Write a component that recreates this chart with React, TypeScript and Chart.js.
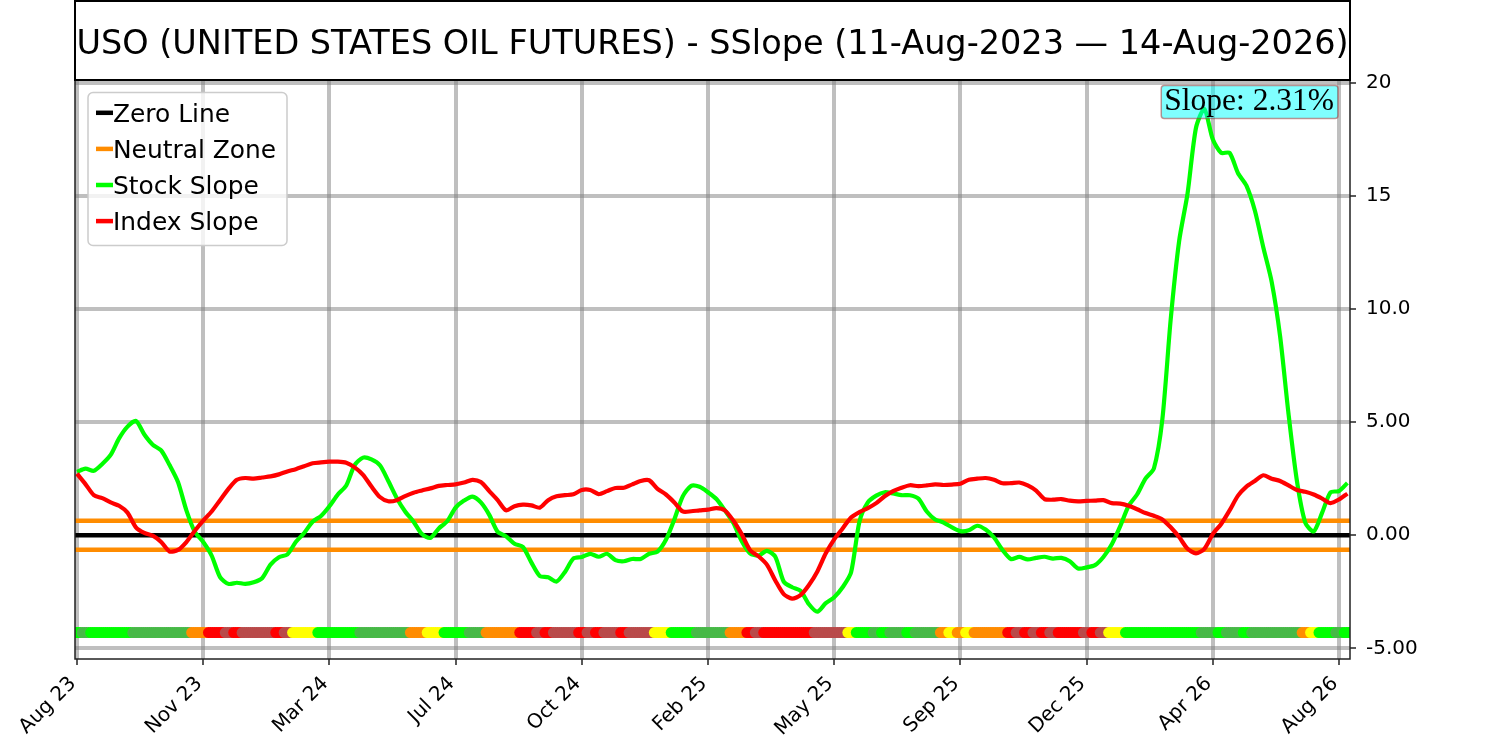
import { useEffect, useRef } from "react";
import Chart from "chart.js/auto";

const TITLE = "USO (UNITED STATES OIL FUTURES) - SSlope (11-Aug-2023 — 14-Aug-2026)";

// x axis is the sample index; month labels sit every 15 samples
const tickIndex = [0, 15, 30, 45, 60, 75, 90, 105, 120, 135, 150];
const tickLabels = ["Aug 23", "Nov 23", "Mar 24", "Jul 24", "Oct 24", "Feb 25", "May 25", "Sep 25", "Dec 25", "Apr 26", "Aug 26"];
const X_MIN = -0.24;
const X_MAX = 151.31;

const yTicks = [20, 15, 10, 5, 0, -5];
const yTickLabels = ["20", "15", "10.0", "5.00", "0.00", "-5.00"];
const Y_MIN = -5.47;
const Y_MAX = 20.12;

const stockSlope = [
  2.8, 2.94, 2.85, 3.15, 3.55, 4.28, 4.8, 5.05, 4.45, 4.0,
  3.75, 3.1, 2.35, 1.1, 0.15, -0.3, -0.9, -1.85, -2.15, -2.1,
  -2.15, -2.08, -1.9, -1.3, -0.97, -0.85, -0.3, 0.1, 0.6, 0.85,
  1.28, 1.8, 2.2, 3.1, 3.43, 3.35, 3.09, 2.4, 1.65, 1.05,
  0.6, 0.05, -0.12, 0.3, 0.62, 1.22, 1.53, 1.71, 1.45, 0.9,
  0.15, -0.05, -0.38, -0.52, -1.2, -1.8, -1.86, -2.05, -1.62, -1.03,
  -0.96, -0.82, -0.95, -0.82, -1.1, -1.15, -1.05, -1.05, -0.82, -0.72,
  -0.2, 0.7, 1.72, 2.18, 2.14, 1.9, 1.6, 1.1, 0.55, -0.25,
  -0.8, -0.9, -0.69, -0.95, -2.05, -2.3, -2.45, -3.05, -3.38, -3.0,
  -2.74, -2.3, -1.65, 0.6, 1.45, 1.75, 1.9, 1.85, 1.77, 1.77,
  1.62, 1.05, 0.7, 0.56, 0.35, 0.18, 0.22, 0.42, 0.25, -0.1,
  -0.65, -1.05, -0.96, -1.07, -1.0, -0.95, -1.03, -1.0, -1.15, -1.47,
  -1.42, -1.32, -0.96, -0.4, 0.4, 1.3, 1.8, 2.5, 2.95, 5.1,
  9.55, 13.0, 15.1, 18.0, 18.84, 17.5, 16.9, 16.9, 16.0, 15.45,
  14.35, 12.73, 11.2, 8.8, 5.37, 2.4, 0.55, 0.17, 1.0, 1.9,
  1.95, 2.31,
];

const indexSlope = [
  2.72, 2.26, 1.77, 1.64, 1.45, 1.3, 1.0, 0.35, 0.1, -0.02,
  -0.3, -0.72, -0.65, -0.3, 0.2, 0.65, 1.05, 1.55, 2.05, 2.45,
  2.53, 2.5, 2.55, 2.6, 2.69, 2.82, 2.92, 3.05, 3.18, 3.22,
  3.25, 3.25, 3.2, 3.0, 2.67, 2.15, 1.69, 1.5, 1.55, 1.73,
  1.88, 1.98, 2.07, 2.18, 2.22, 2.25, 2.33, 2.45, 2.35, 1.95,
  1.55, 1.1, 1.28, 1.35, 1.32, 1.22, 1.55, 1.72, 1.77, 1.81,
  2.0, 2.0, 1.82, 1.95, 2.09, 2.1, 2.25, 2.4, 2.43, 2.05,
  1.8, 1.45, 1.05, 1.06, 1.1, 1.13, 1.2, 1.1, 0.65, 0.05,
  -0.66, -0.93, -1.3, -2.0, -2.6, -2.8, -2.65, -2.2, -1.6, -0.8,
  -0.18, 0.3, 0.78, 1.02, 1.2, 1.42, 1.72, 1.95, 2.1, 2.21,
  2.17, 2.2, 2.25, 2.22, 2.24, 2.28, 2.45, 2.5, 2.53, 2.45,
  2.3, 2.3, 2.33, 2.2, 1.97, 1.6, 1.57, 1.6, 1.53, 1.5,
  1.52, 1.53, 1.55, 1.42, 1.4, 1.3, 1.15, 0.98, 0.86, 0.7,
  0.35, -0.08, -0.6, -0.8, -0.6, 0.05, 0.5, 1.1, 1.75, 2.15,
  2.4, 2.65, 2.5, 2.4, 2.2, 2.0, 1.92, 1.8, 1.62, 1.42,
  1.58, 1.84,
];

const neutralBand = 0.64;
const signalLevel = -4.3;

// signal state per sample, run-length coded: [state, samples]
const signalRuns: [string, number][] = [
  ["G", 1], ["g", 1], ["G", 5], ["g", 7], ["O", 2], ["R", 2], ["B", 1], ["R", 1], ["B", 4], ["R", 1],
  ["B", 1], ["Y", 3], ["G", 5], ["g", 6], ["O", 2], ["Y", 2], ["G", 3], ["g", 2], ["O", 4], ["R", 2],
  ["B", 1], ["R", 1], ["B", 3], ["R", 1], ["B", 1], ["R", 1], ["B", 2], ["R", 1], ["B", 3], ["Y", 2],
  ["G", 3], ["g", 4], ["O", 2], ["R", 1], ["B", 1], ["R", 6], ["B", 4], ["Y", 1], ["G", 2], ["g", 1],
  ["G", 1], ["g", 2], ["G", 1], ["g", 3], ["O", 1], ["Y", 1], ["O", 1], ["Y", 1], ["O", 4], ["R", 1],
  ["B", 1], ["R", 1], ["B", 1], ["R", 1], ["B", 1], ["R", 3], ["B", 1], ["R", 1], ["B", 1], ["Y", 2],
  ["G", 9], ["g", 2], ["G", 1], ["g", 2], ["G", 1], ["g", 6], ["O", 1], ["Y", 1], ["G", 2], ["g", 1],
  ["G", 1],
];

const signalColors: Record<string, string> = {
  G: "#00ff00",
  g: "#47b947",
  O: "#ff8c00",
  Y: "#ffff00",
  R: "#ff0000",
  B: "#b94a4a",
};

// daily markers per weekly sample
const DOTS_PER_SAMPLE = 4;

const legendItems = [
  { label: "Zero Line", color: "#000000" },
  { label: "Neutral Zone", color: "#ff8c00" },
  { label: "Stock Slope", color: "#00ff00" },
  { label: "Index Slope", color: "#ff0000" },
];

const decorPlugin = {
  id: "decor",
  afterDatasetsDraw(chart: any) {
    const { ctx, chartArea: a } = chart;
    ctx.save();
    ctx.strokeStyle = "#222";
    ctx.lineWidth = 1.5;
    ctx.strokeRect(a.left, a.top, a.right - a.left, a.bottom - a.top);
    ctx.restore();
  },
  afterDraw(chart: any) {
    const { ctx, chartArea: a } = chart;
    ctx.save();

    // title box
    ctx.strokeStyle = "#000";
    ctx.lineWidth = 2;
    ctx.strokeRect(a.left, 1, a.right - a.left, a.top - 1);
    ctx.fillStyle = "#000";
    ctx.font = "33.5px 'DejaVu Sans'";
    ctx.textAlign = "center";
    ctx.textBaseline = "alphabetic";
    ctx.fillText(TITLE, (a.left + a.right) / 2, 53.5);

    // legend
    const lx = a.left + 13;
    const ly = a.top + 12.5;
    ctx.beginPath();
    ctx.roundRect(lx, ly, 199, 153, 5);
    ctx.fillStyle = "rgba(255,255,255,0.8)";
    ctx.fill();
    ctx.strokeStyle = "#cccccc";
    ctx.lineWidth = 1.5;
    ctx.stroke();
    ctx.font = "24.9px 'DejaVu Sans'";
    ctx.textAlign = "left";
    legendItems.forEach((it, k) => {
      const y = ly + 20.3 + k * 36.1;
      ctx.strokeStyle = it.color;
      ctx.lineWidth = 4.5;
      ctx.beginPath();
      ctx.moveTo(lx + 8, y);
      ctx.lineTo(lx + 25, y);
      ctx.stroke();
      ctx.fillStyle = "#000";
      ctx.fillText(it.label, lx + 25, y + 9);
    });

    // slope badge
    const last = stockSlope[stockSlope.length - 1];
    const txt = `Slope: ${last.toFixed(2)}%`;
    ctx.font = "31.5px 'Liberation Serif'";
    const w = ctx.measureText(txt).width;
    const bRight = a.right - 12;
    const bTop = a.top + 5.5;
    ctx.beginPath();
    ctx.roundRect(bRight - w - 7, bTop, w + 7, 33, 3);
    ctx.fillStyle = "rgba(0,255,255,0.5)";
    ctx.fill();
    ctx.strokeStyle = "rgba(165,42,42,0.5)";
    ctx.lineWidth = 1.5;
    ctx.stroke();
    ctx.fillStyle = "#000";
    ctx.textAlign = "right";
    ctx.fillText(txt, bRight - 4, bTop + 24.5);

    ctx.restore();
  },
};

const App = () => {
  const chartRef = useRef<HTMLCanvasElement | null>(null);
  const chartInstance = useRef<Chart | null>(null);

  useEffect(() => {
    if (chartInstance.current) {
      chartInstance.current.destroy();
    }
    const ctx = chartRef.current?.getContext("2d");
    if (!ctx) return;

    Chart.defaults.font.family = "'DejaVu Sans'";
    Chart.defaults.color = "#000";

    const dotX: number[] = [];
    const dotColor: string[] = [];
    let idx = 0;
    signalRuns.forEach(([code, n]) => {
      for (let k = 0; k < n; k++) {
        for (let d = 0; d < DOTS_PER_SAMPLE; d++) {
          dotX.push(idx - 0.5 + (d + 0.5) / DOTS_PER_SAMPLE);
          dotColor.push(signalColors[code]);
        }
        idx++;
      }
    });

    const line = (y: number, color: string, order: number) => ({
      type: "line" as const,
      data: [
        { x: X_MIN, y },
        { x: X_MAX, y },
      ],
      borderColor: color,
      borderWidth: 4.5,
      pointRadius: 0,
      order,
      clip: 0,
    });

    chartInstance.current = new Chart(ctx, {
      type: "line",
      data: {
        datasets: [
          {
            label: "Index Slope",
            data: indexSlope.map((v, i) => ({ x: i, y: v })),
            borderColor: "#ff0000",
            borderWidth: 4.2,
            pointRadius: 0,
            tension: 0.25,
            borderJoinStyle: "round",
            order: 0,
            clip: 0,
          },
          {
            label: "Stock Slope",
            data: stockSlope.map((v, i) => ({ x: i, y: v })),
            borderColor: "#00ff00",
            borderWidth: 4.2,
            pointRadius: 0,
            tension: 0.25,
            borderJoinStyle: "round",
            order: 1,
            clip: 0,
          },
          { label: "Neutral Zone", ...line(neutralBand, "#ff8c00", 2) },
          { label: "Neutral Zone", ...line(-neutralBand, "#ff8c00", 2) },
          { label: "Zero Line", ...line(0, "#000000", 3) },
          {
            type: "line",
            label: "Signal",
            data: dotX.map((x) => ({ x, y: signalLevel })),
            showLine: false,
            borderWidth: 0,
            pointStyle: "circle",
            pointRadius: 5.5,
            pointHoverRadius: 5.5,
            pointBorderWidth: 0,
            pointBorderColor: dotColor,
            pointBackgroundColor: dotColor,
            order: 4,
            clip: 0,
          } as any,
        ],
      },
      options: {
        animation: false,
        responsive: true,
        maintainAspectRatio: false,
        layout: { padding: { left: 75, top: 80, right: 0, bottom: 0 } },
        plugins: {
          legend: { display: false },
          tooltip: { enabled: false },
          title: { display: false },
        },
        scales: {
          x: {
            type: "linear",
            min: X_MIN,
            max: X_MAX,
            afterBuildTicks: (s: any) => {
              s.ticks = tickIndex.map((v) => ({ value: v }));
            },
            afterFit: (s: any) => {
              s.height = 82;
            },
            ticks: {
              autoSkip: false,
              maxRotation: 45,
              minRotation: 45,
              padding: 7,
              labelOffset: -4,
              font: { size: 20 },
              callback: (v: any) => tickLabels[tickIndex.indexOf(Number(v))] ?? "",
            },
            grid: {
              color: "rgba(128,128,128,0.5)",
              lineWidth: 4,
              tickColor: "#222",
              tickWidth: 1.5,
              tickLength: 6,
            },
            border: { display: false },
          },
          y: {
            type: "linear",
            position: "right",
            min: Y_MIN,
            max: Y_MAX,
            afterBuildTicks: (s: any) => {
              s.ticks = yTicks.map((v) => ({ value: v }));
            },
            afterFit: (s: any) => {
              s.width = 150;
            },
            ticks: {
              padding: 10,
              font: { size: 20 },
              callback: (v: any) => yTickLabels[yTicks.indexOf(Number(v))] ?? "",
            },
            grid: {
              color: "rgba(128,128,128,0.5)",
              lineWidth: 4,
              tickColor: "#222",
              tickWidth: 1.5,
              tickLength: 6,
            },
            border: { display: false },
          },
        },
      },
      plugins: [decorPlugin],
    } as any);

    return () => {
      if (chartInstance.current) {
        chartInstance.current.destroy();
        chartInstance.current = null;
      }
    };
  }, []);

  return (
    <div style={{ position: "fixed", left: 0, top: 0, width: 1500, height: 741, background: "#fff" }}>
      <canvas ref={chartRef}></canvas>
    </div>
  );
};

export default App;
